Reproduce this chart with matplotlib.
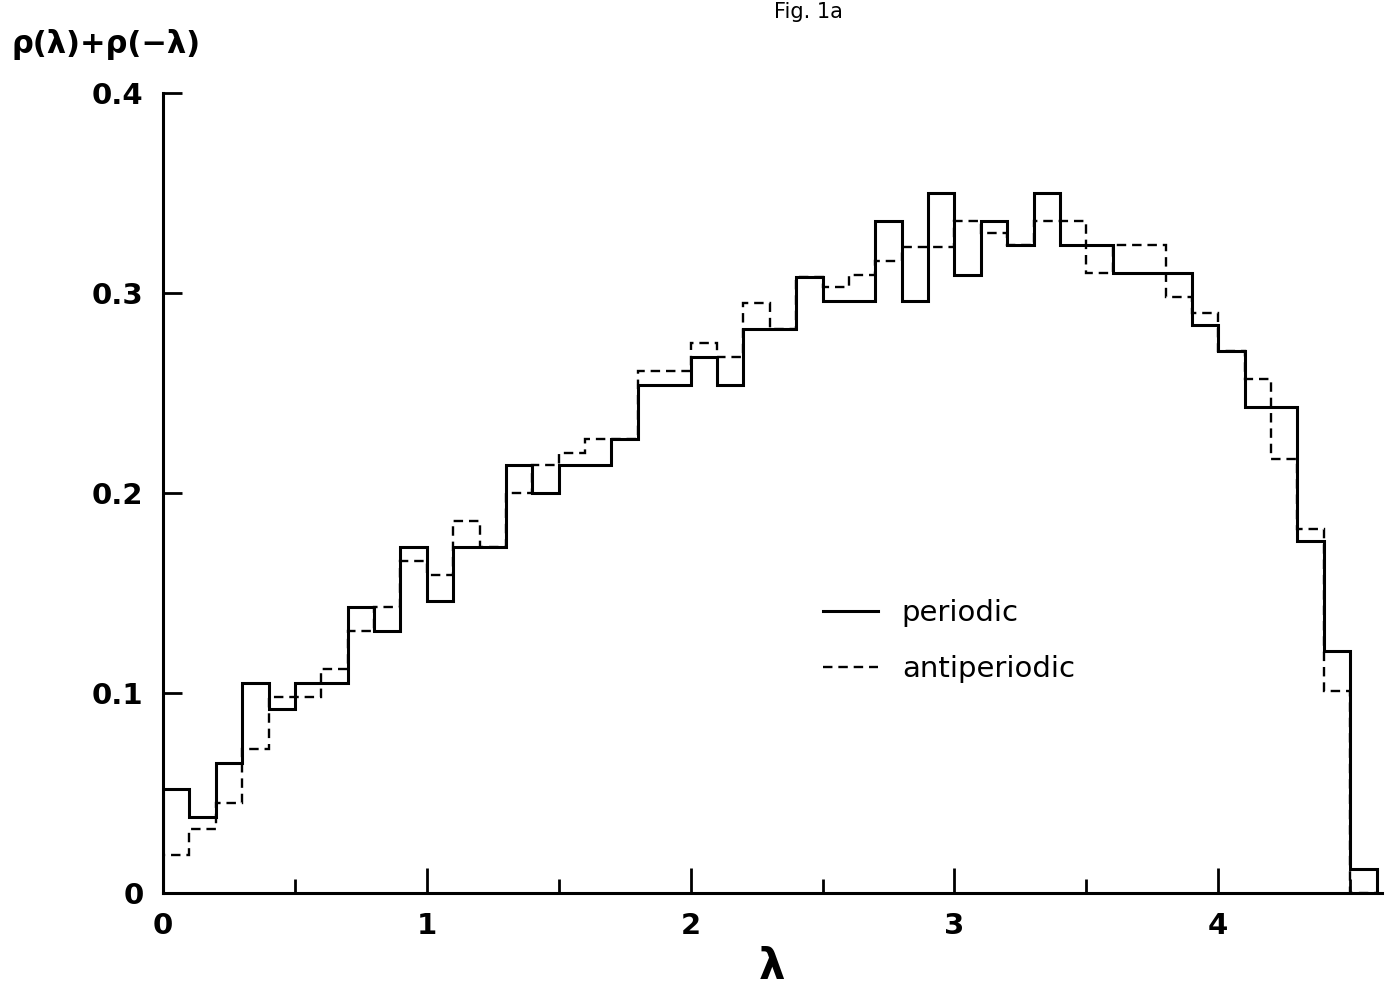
import numpy as np
import matplotlib
matplotlib.use("Agg")
import matplotlib.pyplot as plt
from matplotlib.ticker import MultipleLocator

# histogram bins: width 0.1 starting at lambda = 0
bin_width = 0.1
periodic = [0.052, 0.038, 0.065, 0.105, 0.092, 0.105, 0.105, 0.143, 0.131, 0.173,
            0.146, 0.173, 0.173, 0.214, 0.200, 0.214, 0.214, 0.227, 0.254, 0.254,
            0.268, 0.254, 0.282, 0.282, 0.308, 0.296, 0.296, 0.336, 0.296, 0.350,
            0.309, 0.336, 0.324, 0.350, 0.324, 0.324, 0.310, 0.310, 0.310, 0.284,
            0.271, 0.243, 0.243, 0.176, 0.121, 0.012]
antiperiodic = [0.019, 0.032, 0.045, 0.072, 0.098, 0.098, 0.112, 0.131, 0.143, 0.166,
                0.159, 0.186, 0.173, 0.200, 0.214, 0.220, 0.227, 0.227, 0.261, 0.261,
                0.275, 0.268, 0.295, 0.282, 0.308, 0.303, 0.309, 0.316, 0.323, 0.323,
                0.336, 0.330, 0.324, 0.336, 0.336, 0.310, 0.324, 0.324, 0.298, 0.290,
                0.271, 0.257, 0.217, 0.182, 0.101, 0.0]
xticks = [0, 1, 2, 3, 4]
yticks = [0, 0.1, 0.2, 0.3, 0.4]
ytick_labels = ["0", "0.1", "0.2", "0.3", "0.4"]

edges = np.arange(len(periodic) + 1) * bin_width

plt.rcParams['font.family'] = ['DejaVu Sans']
fig = plt.figure(figsize=(13.93, 9.93), dpi=100)
ax = fig.add_axes([0.117, 0.1007, 0.875, 0.8056])

ax.stairs(antiperiodic, edges, color='black', lw=1.7, ls=(0, (4, 2.5)),
          label='antiperiodic', zorder=2)
ax.stairs(periodic, edges, color='black', lw=2.2, label='periodic', zorder=3)

ax.set_xlim(0, 4.62)
ax.set_ylim(0, 0.4)
for s in ['top', 'right']:
    ax.spines[s].set_visible(False)
for s in ['left', 'bottom']:
    ax.spines[s].set_linewidth(2.2)

ax.set_xticks(xticks)
ax.set_xticklabels([str(t) for t in xticks])
ax.xaxis.set_minor_locator(MultipleLocator(0.5))
ax.set_yticks(yticks)
ax.set_yticklabels(ytick_labels)
ax.tick_params(axis='x', which='major', direction='in', length=18, width=2,
               labelsize=21, pad=14)
ax.tick_params(axis='x', which='minor', direction='in', length=10, width=2)
ax.tick_params(axis='y', which='major', direction='in', length=14, width=2,
               labelsize=21, pad=14)
for lab in ax.get_xticklabels() + ax.get_yticklabels():
    lab.set_fontweight('bold')

ax.set_xlabel('λ', fontsize=30, fontweight='bold', labelpad=4)
fig.text(0.008, 0.955, 'ρ(λ)+ρ(−λ)', fontsize=22, fontweight='bold',
         ha='left', va='center')
fig.text(0.58, 0.998, 'Fig. 1a', fontsize=15, ha='center', va='top')

h, l = ax.get_legend_handles_labels()
ax.legend(h[::-1], l[::-1], loc='upper left', bbox_to_anchor=(0.52, 0.40),
          frameon=False, fontsize=21, handlelength=1.9, handletextpad=0.8,
          labelspacing=0.95)

fig.savefig('out.png', dpi=100)
